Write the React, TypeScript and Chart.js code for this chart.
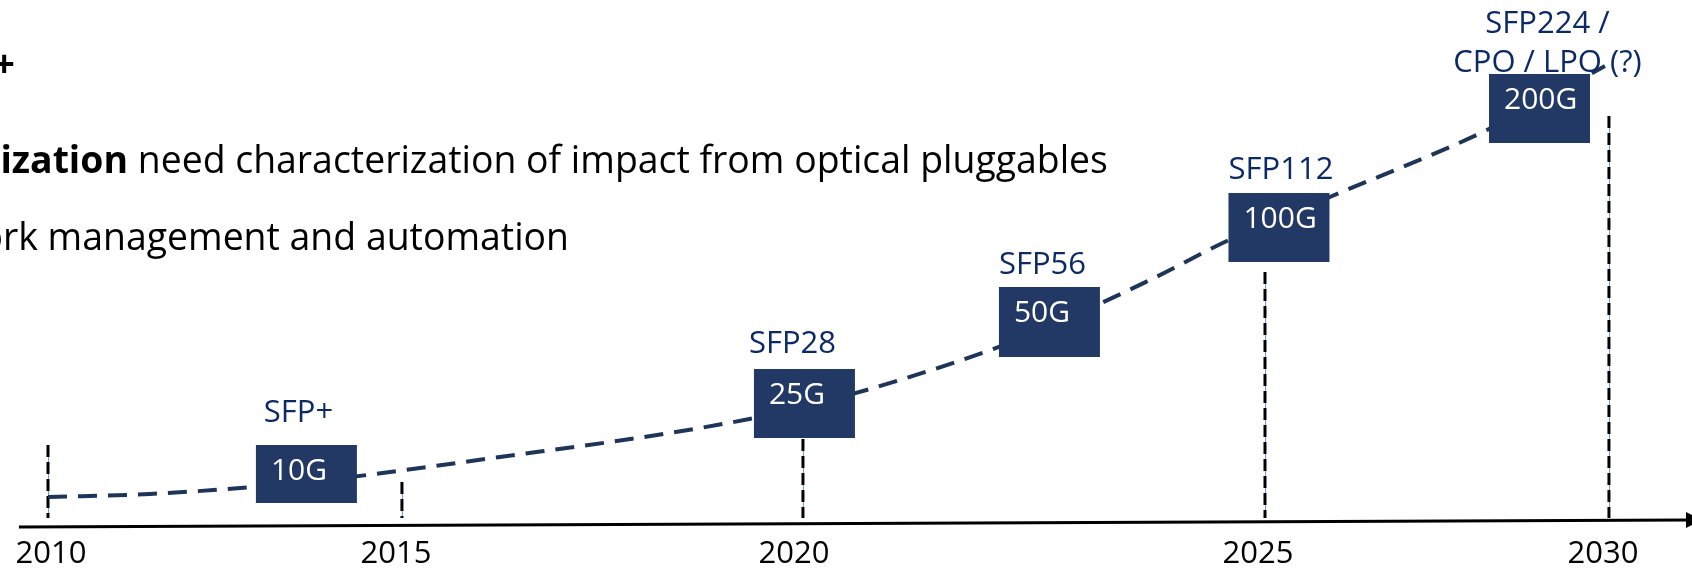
import React, { useEffect, useRef } from "react";
import { Chart, registerables } from "chart.js";

Chart.register(...registerables);

// ---------- data ----------
// timeline years and where their marker lines sit on the (year) axis
const yearLabels = ["2010", "2015", "2020", "2025", "2030"];
const yearMarkX = [2010, 2014.535, 2019.673, 2025.593, 2030];
const yearMarkTop = [21.65, 15.14, 22.71, 52.11, 79.58];

// dashed growth trend (x = year position, y = relative level 0..100)
const trendX = [2010.0, 2011.307, 2013.306, 2015.791, 2018.354, 2019.686, 2022.184, 2022.837, 2024.119, 2025.131, 2025.772, 2026.425, 2028.437, 2029.116, 2029.949];
const trendY = [12.5, 13.03, 15.14, 19.54, 24.65, 28.35, 38.91, 42.61, 50.7, 57.75, 61.5, 65.32, 77.11, 82.11, 88.38];

// rate boxes
const speeds = ["10G", "25G", "50G", "100G", "200G"];
const formFactors = [["SFP+"], ["SFP28"], ["SFP56"], ["SFP112"], ["SFP224 /", "CPO / LPO (?)"]];
const boxX = [2013.311, 2019.692, 2022.831, 2025.772, 2029.11];
const boxY = [16.55, 28.96, 43.31, 59.95, 80.9];

// slide body text (cut off at the left edge in the original)
const bulletPlus = "SFP+";
const bulletBold = "Virtualization";
const bulletRest = " need characterization of impact from optical pluggables";
const bulletThird = "Network management and automation";

// ---------- styles ----------
const W = 1692;
const H = 568;
const X_MIN = 2009.385;
const X_MAX = 2031.064;
const FONT = "'Open Sans', 'Noto Sans', sans-serif";
const BOX_FILL = "#233965";
const TREND_COLOR = "#1f3459";
const LABEL_COLOR = "#0c2a66";
const BOX_W = 101;
const BOX_H = [58, 69, 70, 69, 69];
const LABEL_GAP = [34, 27, 24, 25, 13];
const LABEL_DX = [-8, -12, -7, 2, 8];
const YEAR_DX = [3, -6, -9, -7, -6];
const LABEL_SIZE = 31;
const BOX_TEXT_SIZE = 30;
const YEAR_SIZE = 31;
const BODY_SIZE = 37.4;
const AXIS_LEFT_X = 2009.628;
const AXIS_Y_LEFT = 7.22;
const AXIS_Y_RIGHT = 8.45;
const MARK_BOTTOM = 8.8;

export default function App() {
  const ref = useRef<HTMLCanvasElement>(null);

  useEffect(() => {
    const canvas = ref.current;
    if (!canvas) return;

    const overlay = {
      id: "timelineOverlay",
      beforeDatasetsDraw(chart: any) {
        const { ctx, scales } = chart;
        const xs = scales.x;
        const ys = scales.y;
        ctx.save();
        // axis line with arrow
        const x0 = xs.getPixelForValue(AXIS_LEFT_X);
        const y0 = ys.getPixelForValue(AXIS_Y_LEFT);
        const x1 = xs.getPixelForValue(X_MAX);
        const y1 = ys.getPixelForValue(AXIS_Y_RIGHT);
        ctx.strokeStyle = "#000";
        ctx.lineWidth = 3;
        ctx.beginPath();
        ctx.moveTo(x0, y0);
        ctx.lineTo(x1 - 4, y1);
        ctx.stroke();
        ctx.fillStyle = "#000";
        ctx.beginPath();
        ctx.moveTo(x1 - 6, y1 - 8);
        ctx.lineTo(x1 + 10, y1);
        ctx.lineTo(x1 - 6, y1 + 8);
        ctx.closePath();
        ctx.fill();

        // vertical year markers
        yearMarkX.forEach((yx, i) => {
          const px = xs.getPixelForValue(yx);
          const top = ys.getPixelForValue(yearMarkTop[i]);
          const bot = ys.getPixelForValue(MARK_BOTTOM);
          ctx.setLineDash([]);
          ctx.strokeStyle = "#6f94d6";
          ctx.lineWidth = 1;
          ctx.beginPath();
          ctx.moveTo(px + 0.5, top);
          ctx.lineTo(px + 0.5, bot);
          ctx.stroke();
          ctx.setLineDash([12, 5]);
          ctx.strokeStyle = "#000";
          ctx.lineWidth = 3;
          ctx.beginPath();
          ctx.moveTo(px, top);
          ctx.lineTo(px, bot);
          ctx.stroke();
        });
        ctx.setLineDash([]);

        // year labels
        ctx.fillStyle = "#000";
        ctx.font = `${YEAR_SIZE}px ${FONT}`;
        ctx.textAlign = "center";
        ctx.textBaseline = "alphabetic";
        yearLabels.forEach((lab, i) => {
          const px = xs.getPixelForValue(yearMarkX[i]) + YEAR_DX[i];
          ctx.fillText(lab, px, 563);
        });
        ctx.restore();
      },
      afterDatasetsDraw(chart: any) {
        const { ctx, scales } = chart;
        const xs = scales.x;
        const ys = scales.y;
        ctx.save();
        speeds.forEach((sp, i) => {
          const cx = xs.getPixelForValue(boxX[i]);
          const cy = ys.getPixelForValue(boxY[i]);
          const h = BOX_H[i];
          const left = cx - BOX_W / 2;
          const top = cy - h / 2;
          ctx.fillStyle = BOX_FILL;
          ctx.fillRect(left, top, BOX_W, h);
          ctx.fillStyle = "#ffffff";
          ctx.font = `${BOX_TEXT_SIZE}px ${FONT}`;
          ctx.textAlign = "left";
          ctx.textBaseline = "alphabetic";
          ctx.fillText(sp, left + 15, top + 35);

          // form factor label(s)
          ctx.fillStyle = LABEL_COLOR;
          ctx.font = `${LABEL_SIZE}px ${FONT}`;
          ctx.textAlign = "center";
          const lines = formFactors[i];
          const lastBase = top - LABEL_GAP[i] + 11;
          lines.forEach((ln, j) => {
            const base = lastBase - (lines.length - 1 - j) * 39;
            ctx.fillText(ln, cx + LABEL_DX[i], base);
          });
        });

        // slide body text
        ctx.fillStyle = "#000";
        ctx.textAlign = "right";
        ctx.font = `bold ${BODY_SIZE}px ${FONT}`;
        ctx.fillText(bulletPlus, 15, 77);
        ctx.fillText(bulletBold, 128, 173);
        ctx.textAlign = "left";
        ctx.font = `${BODY_SIZE}px ${FONT}`;
        ctx.fillText(bulletRest, 128, 173);
        ctx.textAlign = "right";
        ctx.fillText(bulletThird, 569, 250);
        ctx.restore();
      },
    };

    const chart = new Chart(canvas, {
      type: "line",
      data: {
        datasets: [
          {
            data: trendX.map((x, i) => ({ x, y: trendY[i] })),
            borderColor: TREND_COLOR,
            borderWidth: 4,
            borderDash: [19, 11],
            pointRadius: 0,
            cubicInterpolationMode: "monotone",
            fill: false,
          },
        ],
      },
      options: {
        animation: false,
        responsive: false,
        maintainAspectRatio: false,
        devicePixelRatio: 1,
        layout: { padding: 0 },
        events: [],
        scales: {
          x: { type: "linear", display: false, min: X_MIN, max: X_MAX },
          y: { type: "linear", display: false, min: 0, max: 100 },
        },
        plugins: { legend: { display: false }, tooltip: { enabled: false } },
      },
      plugins: [overlay],
    } as any);

    return () => chart.destroy();
  }, []);

  return (
    <div style={{ position: "fixed", left: 0, top: 0, width: W, height: H, background: "#fff" }}>
      <canvas ref={ref} width={W} height={H} style={{ display: "block", width: W, height: H }} />
    </div>
  );
}
